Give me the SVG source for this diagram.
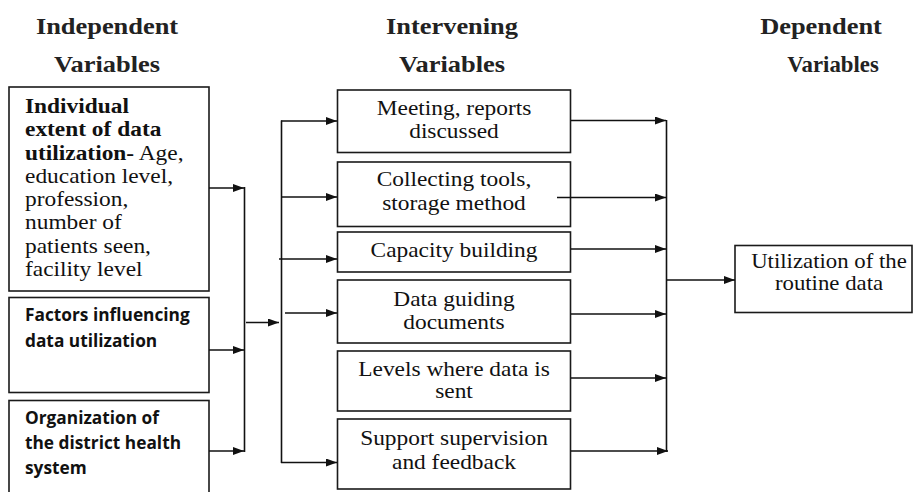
<svg xmlns="http://www.w3.org/2000/svg" width="913" height="492" viewBox="0 0 913 492">
<defs>
<style>
.box{fill:#fff;stroke:#1a1a1a;stroke-width:1.6}
.ln{fill:none;stroke:#111;stroke-width:1.6}
.h{font-family:"Liberation Serif","Times New Roman",serif;font-weight:bold;font-size:24px;fill:#222;text-anchor:middle}
.t{font-family:"Liberation Serif","Times New Roman",serif;font-size:20px;fill:#111}
.c{text-anchor:middle}
.b{font-weight:bold}
.s{font-family:"Open Sans","Noto Sans",sans-serif;font-weight:bold;font-size:17.3px;fill:#111}
</style>
<marker id="ah" markerWidth="11" markerHeight="8" refX="11" refY="4" orient="auto" markerUnits="userSpaceOnUse">
<path d="M0,0 L11,4 L0,8 z" fill="#111"/>
</marker>
</defs>
<rect width="913" height="492" fill="#fff"/>

<g id="headings">
<g transform="translate(107,0) scale(1.1,1)"><text class="h" x="0" y="34">Independent</text><text class="h" x="0" y="72">Variables</text></g>
<g transform="translate(452,0) scale(1.1,1)"><text class="h" x="0" y="34">Intervening</text><text class="h" x="0" y="72">Variables</text></g>
<g transform="translate(821,0) scale(1.1,1)"><text class="h" x="0" y="34">Dependent</text></g>
<g transform="translate(833,0) scale(0.95,1)"><text class="h" x="0" y="72">Variables</text></g>
</g>

<g id="iv1">
<rect class="box" x="9" y="87" width="200" height="204"/>
<g transform="translate(25,0) scale(1.17,1)">
<text class="t b" x="0" y="113">Individual</text>
<text class="t b" x="0" y="136.5">extent of data</text>
<text class="t" x="0" y="160"><tspan class="b">utilization-</tspan> Age,</text>
<text class="t" x="0" y="183">education level,</text>
<text class="t" x="0" y="206.5">profession,</text>
<text class="t" x="0" y="229.5">number of</text>
<text class="t" x="0" y="253">patients seen,</text>
<text class="t" x="0" y="276.5">facility level</text>
</g>
</g>

<g id="iv2">
<rect class="box" x="9" y="297.5" width="200" height="95"/>
<text class="s" x="25" y="321">Factors influencing</text>
<text class="s" x="25" y="346.5">data utilization</text>
</g>

<g id="iv3">
<rect class="box" x="9" y="400.5" width="200" height="100"/>
<text class="s" x="25" y="423.5">Organization of</text>
<text class="s" x="25" y="449">the district health</text>
<text class="s" x="25" y="474">system</text>
</g>

<g id="m1">
<rect class="box" x="337.5" y="90" width="233" height="62.5"/>
<g transform="translate(454,0) scale(1.17,1)"><text class="t c" x="0" y="115.5">Meeting, reports</text><text class="t c" x="0" y="138.5">discussed</text></g>
</g>
<g id="m2">
<rect class="box" x="337.5" y="162" width="233" height="64.5"/>
<g transform="translate(454,0) scale(1.17,1)"><text class="t c" x="0" y="186.5">Collecting tools,</text><text class="t c" x="0" y="210">storage method</text></g>
</g>
<g id="m3">
<rect class="box" x="337.5" y="232" width="233" height="40"/>
<g transform="translate(454,0) scale(1.17,1)"><text class="t c" x="0" y="257.5">Capacity building</text></g>
</g>
<g id="m4">
<rect class="box" x="337.5" y="280" width="233" height="63"/>
<g transform="translate(454,0) scale(1.17,1)"><text class="t c" x="0" y="306">Data guiding</text><text class="t c" x="0" y="329.5">documents</text></g>
</g>
<g id="m5">
<rect class="box" x="337.5" y="351" width="233" height="60"/>
<g transform="translate(454,0) scale(1.17,1)"><text class="t c" x="0" y="376">Levels where data is</text><text class="t c" x="0" y="398.5">sent</text></g>
</g>
<g id="m6">
<rect class="box" x="337.5" y="419" width="233" height="70"/>
<g transform="translate(454,0) scale(1.17,1)"><text class="t c" x="0" y="445">Support supervision</text><text class="t c" x="0" y="469.5">and feedback</text></g>
</g>

<g id="dv">
<rect class="box" x="735" y="245.5" width="177" height="67"/>
<g transform="translate(829,0) scale(1.14,1)"><text class="t c" x="0" y="268.5">Utilization of the</text><text class="t c" x="0" y="290.5">routine data</text></g>
</g>

<g id="connectors">
<line class="ln" x1="209" y1="188" x2="244" y2="188" marker-end="url(#ah)"/>
<line class="ln" x1="209" y1="350" x2="244" y2="350" marker-end="url(#ah)"/>
<line class="ln" x1="209" y1="451" x2="244" y2="451" marker-end="url(#ah)"/>
<line class="ln" x1="244.5" y1="187" x2="244.5" y2="452"/>
<line class="ln" x1="246" y1="322.5" x2="279" y2="322.5" marker-end="url(#ah)"/>
<line class="ln" x1="281.5" y1="120.5" x2="281.5" y2="463"/>
<line class="ln" x1="281" y1="121" x2="337" y2="121" marker-end="url(#ah)"/>
<line class="ln" x1="281" y1="197" x2="337" y2="197" marker-end="url(#ah)"/>
<line class="ln" x1="279" y1="259" x2="337" y2="259" marker-end="url(#ah)"/>
<line class="ln" x1="285" y1="313" x2="337" y2="313" marker-end="url(#ah)"/>
<line class="ln" x1="281" y1="462.5" x2="337" y2="462.5" marker-end="url(#ah)"/>
<line class="ln" x1="571" y1="120.5" x2="666" y2="120.5" marker-end="url(#ah)"/>
<line class="ln" x1="557" y1="197.5" x2="666" y2="197.5" marker-end="url(#ah)"/>
<line class="ln" x1="571" y1="249" x2="666" y2="249" marker-end="url(#ah)"/>
<line class="ln" x1="571" y1="314" x2="666" y2="314" marker-end="url(#ah)"/>
<line class="ln" x1="571" y1="378" x2="666" y2="378" marker-end="url(#ah)"/>
<line class="ln" x1="571" y1="451" x2="668" y2="451" marker-end="url(#ah)"/>
<line class="ln" x1="666.5" y1="120" x2="666.5" y2="452"/>
<line class="ln" x1="667" y1="280" x2="735" y2="280" marker-end="url(#ah)"/>
</g>
</svg>
